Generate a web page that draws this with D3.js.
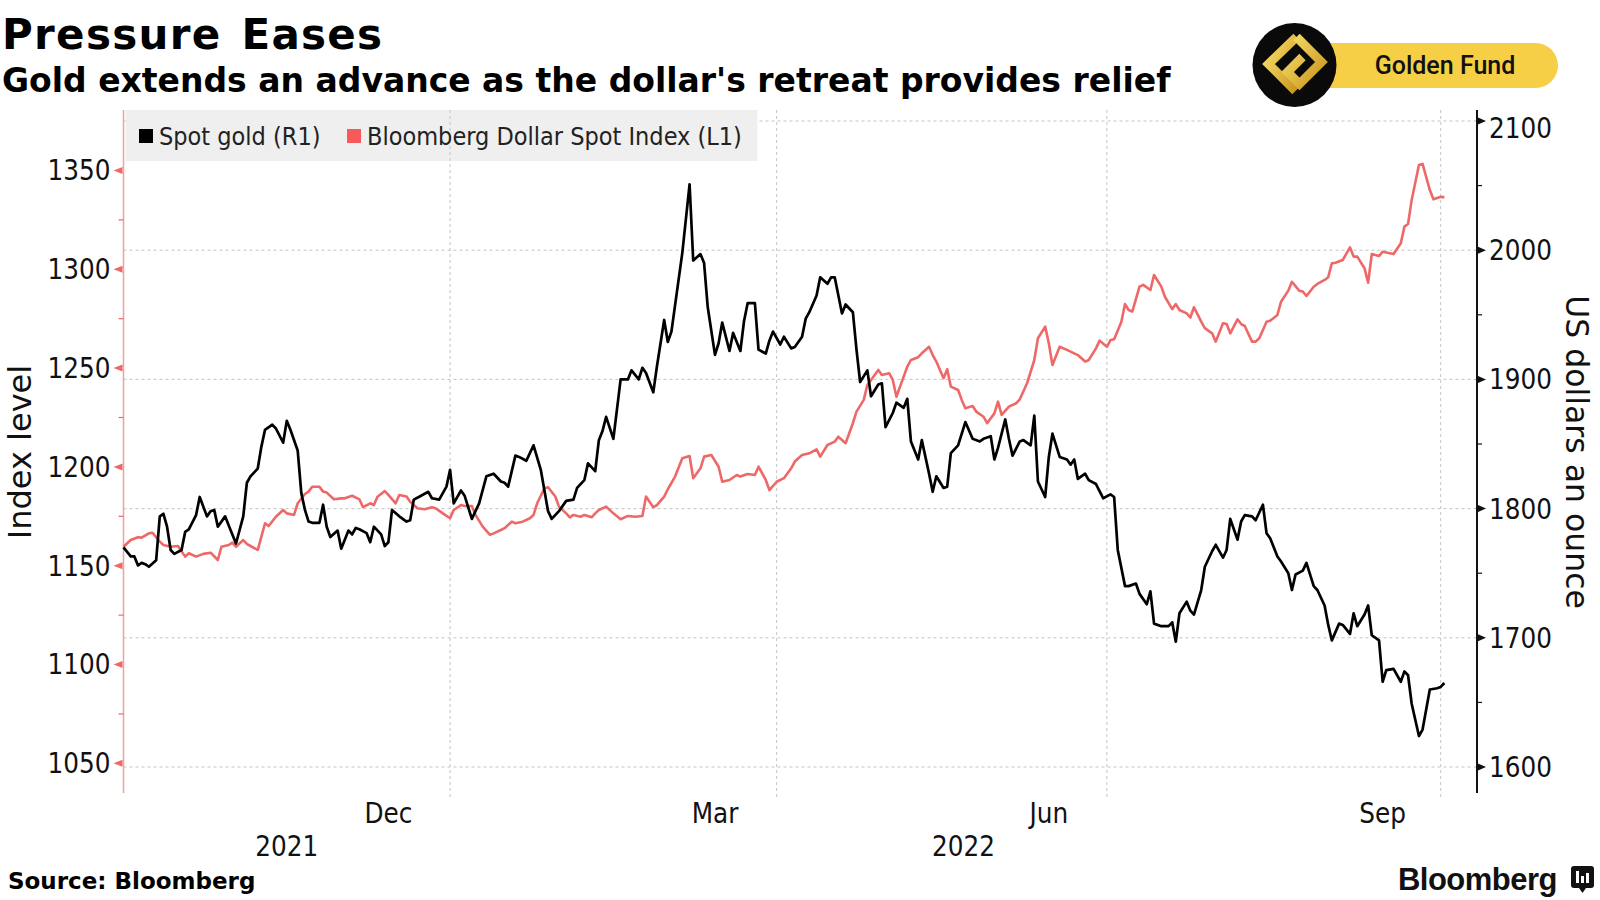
<!DOCTYPE html>
<html>
<head>
<meta charset="utf-8">
<script src="https://cdn.jsdelivr.net/npm/d3@7"></script>
<style>
  html, body { margin: 0; padding: 0; background: #fff; }
  svg { display: block; }
  .cond { font-family: "DejaVu Sans Condensed", "DejaVu Sans", sans-serif; font-stretch: condensed; }
  .wide { font-family: "DejaVu Sans", sans-serif; }
</style>
</head>
<body>
<svg id="chart" width="1600" height="900"></svg>
<script>
var width = 1600, height = 900;
var plotLeft = 123.5, plotRight = 1477, plotTop = 110, plotBottom = 793;

var red = '#ef6868',
    redAxis = '#f2a0a0',
    gridColor = '#c4c4c4';

// Spot gold, US dollars an ounce (right axis)
var goldData = [
  ["21-10-03",1770],["21-10-05",1763],["21-10-06",1763],["21-10-07",1756],["21-10-08",1758],["21-10-09",1757],
  ["21-10-10",1755],["21-10-12",1760],["21-10-13",1794],["21-10-14",1796],["21-10-15",1786],["21-10-16",1768],
  ["21-10-17",1765],["21-10-19",1768],["21-10-20",1782],["21-10-21",1784],["21-10-23",1795],["21-10-24",1809],
  ["21-10-26",1794],["21-10-27",1798],["21-10-28",1799],["21-10-29",1786],["21-10-31",1794],["21-11-01",1787],
  ["21-11-03",1773],["21-11-05",1794],["21-11-06",1820],["21-11-07",1825],["21-11-09",1831],["21-11-10",1848],
  ["21-11-11",1861],["21-11-13",1865],["21-11-14",1862],["21-11-16",1851],["21-11-17",1868],["21-11-18",1861],
  ["21-11-20",1845],["21-11-21",1812],["21-11-22",1799],["21-11-23",1790],["21-11-24",1789],["21-11-26",1789],
  ["21-11-27",1803],["21-11-28",1786],["21-11-29",1778],["21-12-01",1783],["21-12-02",1769],["21-12-04",1783],
  ["21-12-05",1780],["21-12-06",1785],["21-12-07",1784],["21-12-09",1781],["21-12-10",1774],["21-12-11",1786],
  ["21-12-13",1780],["21-12-14",1771],["21-12-15",1774],["21-12-16",1799],["21-12-18",1794],["21-12-20",1790],
  ["21-12-21",1791],["21-12-22",1807],["21-12-24",1810],["21-12-26",1813],["21-12-27",1808],["21-12-29",1807],
  ["21-12-31",1817],["22-01-01",1830],["22-01-02",1804],["22-01-04",1814],["22-01-05",1810],["22-01-07",1792],
  ["22-01-08",1798],["22-01-09",1804],["22-01-11",1825],["22-01-13",1827],["22-01-15",1821],["22-01-16",1820],
  ["22-01-17",1817],["22-01-19",1841],["22-01-20",1840],["22-01-22",1837],["22-01-24",1849],["22-01-26",1830],
  ["22-01-28",1798],["22-01-29",1792],["22-01-31",1798],["22-02-02",1806],["22-02-04",1807],["22-02-05",1816],
  ["22-02-07",1822],["22-02-08",1835],["22-02-10",1829],["22-02-11",1853],["22-02-12",1860],["22-02-13",1871],
  ["22-02-15",1854],["22-02-17",1900],["22-02-19",1900],["22-02-20",1907],["22-02-22",1900],["22-02-23",1909],
  ["22-02-24",1905],["22-02-26",1890],["22-02-27",1910],["22-03-01",1946],["22-03-02",1929],["22-03-03",1937],
  ["22-03-06",1998],["22-03-08",2051],["22-03-09",1992],["22-03-11",1997],["22-03-12",1990],["22-03-13",1956],
  ["22-03-15",1919],["22-03-16",1928],["22-03-17",1944],["22-03-19",1922],["22-03-20",1936],["22-03-22",1922],
  ["22-03-23",1945],["22-03-24",1959],["22-03-26",1959],["22-03-27",1923],["22-03-29",1920],["22-03-30",1930],
  ["22-03-31",1937],["22-04-02",1927],["22-04-03",1933],["22-04-05",1924],["22-04-06",1925],["22-04-08",1933],
  ["22-04-09",1947],["22-04-10",1952],["22-04-12",1965],["22-04-13",1979],["22-04-15",1974],["22-04-16",1979],
  ["22-04-17",1979],["22-04-19",1951],["22-04-20",1958],["22-04-22",1952],["22-04-23",1923],["22-04-24",1898],
  ["22-04-26",1907],["22-04-27",1887],["22-04-29",1896],["22-04-30",1897],["22-05-01",1863],["22-05-03",1874],
  ["22-05-04",1882],["22-05-06",1878],["22-05-07",1885],["22-05-08",1852],["22-05-10",1838],["22-05-11",1853],
  ["22-05-13",1827],["22-05-14",1813],["22-05-15",1825],["22-05-17",1816],["22-05-18",1817],["22-05-19",1843],
  ["22-05-21",1849],["22-05-23",1867],["22-05-25",1854],["22-05-27",1852],["22-05-28",1854],["22-05-30",1856],
  ["22-05-31",1838],["22-06-01",1847],["22-06-03",1869],["22-06-04",1854],["22-06-05",1841],["22-06-07",1852],
  ["22-06-08",1853],["22-06-10",1849],["22-06-11",1872],["22-06-12",1821],["22-06-14",1809],["22-06-15",1840],
  ["22-06-16",1858],["22-06-18",1840],["22-06-20",1838],["22-06-21",1834],["22-06-22",1838],["22-06-23",1823],
  ["22-06-25",1827],["22-06-26",1822],["22-06-28",1819],["22-06-30",1808],["22-07-02",1811],["22-07-03",1809],
  ["22-07-04",1768],["22-07-06",1740],["22-07-07",1740],["22-07-09",1742],["22-07-10",1734],["22-07-12",1726],
  ["22-07-13",1736],["22-07-14",1711],["22-07-16",1709],["22-07-18",1709],["22-07-19",1712],["22-07-20",1697],
  ["22-07-21",1719],["22-07-23",1728],["22-07-24",1721],["22-07-25",1718],["22-07-27",1737],["22-07-28",1755],
  ["22-07-30",1767],["22-07-31",1772],["22-08-02",1762],["22-08-03",1768],["22-08-04",1792],["22-08-06",1776],
  ["22-08-07",1790],["22-08-08",1795],["22-08-10",1794],["22-08-11",1791],["22-08-13",1803],["22-08-14",1781],
  ["22-08-15",1777],["22-08-17",1763],["22-08-18",1759],["22-08-20",1750],["22-08-21",1737],["22-08-22",1749],
  ["22-08-24",1752],["22-08-25",1758],["22-08-27",1740],["22-08-28",1737],["22-08-30",1725],["22-08-31",1710],
  ["22-09-01",1698],["22-09-03",1711],["22-09-04",1710],["22-09-06",1703],["22-09-07",1719],["22-09-08",1709],
  ["22-09-10",1718],["22-09-11",1725],["22-09-12",1702],["22-09-14",1698],["22-09-15",1666],["22-09-16",1675],
  ["22-09-18",1676],["22-09-20",1666],["22-09-21",1674],["22-09-22",1671],["22-09-23",1649],["22-09-25",1624],
  ["22-09-26",1629],["22-09-28",1660],["22-09-30",1661],["22-10-01",1662],["22-10-02",1665]
];

// Bloomberg Dollar Spot Index (left axis)
var dollarData = [
  ["21-10-03",1159.6],["21-10-05",1163.0],["21-10-07",1164.4],["21-10-08",1164.2],["21-10-10",1166.4],["21-10-11",1166.7],
  ["21-10-13",1162.2],["21-10-14",1160.5],["21-10-16",1159.6],["21-10-18",1160.0],["21-10-20",1154.6],["21-10-21",1156.3],
  ["21-10-23",1154.6],["21-10-25",1156.0],["21-10-27",1156.6],["21-10-29",1152.9],["21-10-30",1159.6],["21-11-01",1160.5],
  ["21-11-02",1161.7],["21-11-03",1159.6],["21-11-05",1163.0],["21-11-06",1161.0],["21-11-09",1158.0],["21-11-10",1164.7],
  ["21-11-11",1171.5],["21-11-12",1170.1],["21-11-14",1174.8],["21-11-16",1178.2],["21-11-17",1176.5],["21-11-19",1175.7],
  ["21-11-20",1181.6],["21-11-22",1186.3],["21-11-23",1187.5],["21-11-24",1190.0],["21-11-26",1190.0],["21-11-27",1187.5],
  ["21-11-28",1187.0],["21-11-30",1183.6],["21-12-02",1184.1],["21-12-03",1184.1],["21-12-05",1185.4],["21-12-07",1183.6],
  ["21-12-08",1179.6],["21-12-10",1181.6],["21-12-11",1180.7],["21-12-12",1184.9],["21-12-14",1187.8],["21-12-15",1185.8],
  ["21-12-17",1181.6],["21-12-18",1185.8],["21-12-20",1185.0],["21-12-21",1182.4],["21-12-23",1179.1],["21-12-25",1178.6],
  ["21-12-27",1179.6],["21-12-28",1179.1],["21-12-30",1176.5],["22-01-01",1174.0],["22-01-02",1178.2],["22-01-04",1180.7],
  ["22-01-05",1180.2],["22-01-07",1180.2],["22-01-08",1175.7],["22-01-10",1169.8],["22-01-12",1165.6],["22-01-13",1166.4],
  ["22-01-15",1168.1],["22-01-16",1169.0],["22-01-18",1172.3],["22-01-19",1171.5],["22-01-21",1172.3],["22-01-23",1174.0],
  ["22-01-24",1175.7],["22-01-25",1181.6],["22-01-27",1189.2],["22-01-28",1189.7],["22-01-30",1185.0],["22-01-31",1179.9],
  ["22-02-02",1176.5],["22-02-03",1174.5],["22-02-04",1175.7],["22-02-06",1174.8],["22-02-07",1175.7],["22-02-09",1174.5],
  ["22-02-10",1176.5],["22-02-11",1178.2],["22-02-13",1179.9],["22-02-15",1176.5],["22-02-17",1173.5],["22-02-19",1175.2],
  ["22-02-21",1174.8],["22-02-23",1175.2],["22-02-24",1185.0],["22-02-26",1179.6],["22-02-27",1180.7],["22-03-01",1185.0],
  ["22-03-02",1188.7],["22-03-04",1195.1],["22-03-06",1204.4],["22-03-08",1205.5],["22-03-09",1194.3],["22-03-11",1199.3],
  ["22-03-12",1205.2],["22-03-14",1206.0],["22-03-16",1200.1],["22-03-17",1192.5],["22-03-19",1193.4],["22-03-21",1195.9],
  ["22-03-22",1195.1],["22-03-24",1196.4],["22-03-26",1195.9],["22-03-27",1200.1],["22-03-29",1193.4],["22-03-30",1188.3],
  ["22-04-01",1192.5],["22-04-03",1194.3],["22-04-05",1199.3],["22-04-06",1202.7],["22-04-08",1206.0],["22-04-10",1206.9],
  ["22-04-12",1208.9],["22-04-13",1205.2],["22-04-15",1211.1],["22-04-17",1212.8],["22-04-18",1215.3],["22-04-20",1212.0],
  ["22-04-22",1222.1],["22-04-23",1228.0],["22-04-25",1233.9],["22-04-26",1241.5],["22-04-28",1246.5],["22-04-29",1249.1],
  ["22-04-30",1246.5],["22-05-02",1247.4],["22-05-03",1244.0],["22-05-04",1235.5],["22-05-06",1245.7],["22-05-07",1250.7],
  ["22-05-08",1254.1],["22-05-10",1255.5],["22-05-11",1257.5],["22-05-13",1260.8],["22-05-14",1256.6],["22-05-15",1253.3],
  ["22-05-17",1244.9],["22-05-18",1249.4],["22-05-19",1240.6],["22-05-21",1238.9],["22-05-22",1233.9],["22-05-23",1229.7],
  ["22-05-25",1230.8],["22-05-26",1228.0],["22-05-28",1225.4],["22-05-29",1222.1],["22-05-31",1227.1],["22-06-01",1233.0],
  ["22-06-02",1226.3],["22-06-04",1230.5],["22-06-06",1232.2],["22-06-07",1234.2],["22-06-09",1242.3],["22-06-11",1254.1],
  ["22-06-12",1265.1],["22-06-14",1271.0],["22-06-15",1262.6],["22-06-16",1251.6],["22-06-18",1260.8],["22-06-20",1259.2],
  ["22-06-21",1258.3],["22-06-23",1256.6],["22-06-25",1253.3],["22-06-26",1254.1],["22-06-28",1260.0],["22-06-29",1263.9],
  ["22-07-01",1260.8],["22-07-02",1264.2],["22-07-03",1264.6],["22-07-05",1273.5],["22-07-06",1282.4],["22-07-07",1279.4],
  ["22-07-08",1278.6],["22-07-10",1291.2],["22-07-11",1292.1],["22-07-13",1289.5],["22-07-14",1297.1],["22-07-16",1291.2],
  ["22-07-17",1286.1],["22-07-19",1279.8],["22-07-20",1282.4],["22-07-21",1279.4],["22-07-23",1277.7],["22-07-24",1275.6],
  ["22-07-25",1280.8],["22-07-27",1273.5],["22-07-28",1270.2],["22-07-30",1267.6],["22-07-31",1263.4],["22-08-02",1272.7],
  ["22-08-03",1272.3],["22-08-04",1267.6],["22-08-06",1274.7],["22-08-07",1272.3],["22-08-08",1271.3],["22-08-10",1263.4],
  ["22-08-11",1263.4],["22-08-12",1265.1],["22-08-14",1273.5],["22-08-15",1274.0],["22-08-17",1276.9],["22-08-18",1283.6],
  ["22-08-20",1289.2],["22-08-21",1293.7],["22-08-23",1289.2],["22-08-24",1288.7],["22-08-25",1286.5],["22-08-27",1291.2],
  ["22-08-28",1292.6],["22-08-30",1294.6],["22-08-31",1296.0],["22-09-01",1303.0],["22-09-02",1303.3],["22-09-04",1304.7],
  ["22-09-06",1311.1],["22-09-07",1306.4],["22-09-08",1306.4],["22-09-10",1300.5],["22-09-11",1293.2],["22-09-12",1307.7],
  ["22-09-14",1306.7],["22-09-15",1308.9],["22-09-17",1308.1],["22-09-18",1307.7],["22-09-20",1313.2],["22-09-21",1321.6],
  ["22-09-22",1322.9],["22-09-23",1335.1],["22-09-25",1352.8],["22-09-26",1353.3],["22-09-28",1340.1],["22-09-29",1335.4],
  ["22-10-01",1336.7],["22-10-02",1336.4]
];

var leftTicks = [1050, 1100, 1150, 1200, 1250, 1300, 1350];
var leftMinor = [1075, 1125, 1175, 1225, 1275, 1325];
var rightTicks = [1600, 1700, 1800, 1900, 2000, 2100];
var rightMinor = [1650, 1750, 1850, 1950, 2050];
var gridDates = ["22-01-01", "22-04-01", "22-07-01", "22-10-01"];
var monthLabels = [["21-12-15", "Dec"], ["22-03-15", "Mar"], ["22-06-15", "Jun"], ["22-09-15", "Sep"]];
var yearLabels = [["2021", "21-10-03", "22-01-01"], ["2022", "22-01-01", "22-10-11"]];
var xDomain = ["21-10-03", "22-10-11"];
var leftDomain = [1035, 1380.6];
var rightDomain = [1579.9, 2108.5];

var parse = d3.timeParse("%y-%m-%d");

var x = d3.scaleTime().domain(xDomain.map(parse)).range([plotLeft, plotRight]);
var yLeft = d3.scaleLinear().domain(leftDomain).range([plotBottom, plotTop]);
var yRight = d3.scaleLinear().domain(rightDomain).range([plotBottom, plotTop]);

var gold = goldData.map(function(d) { return {date: parse(d[0]), value: d[1]}; });
var dollar = dollarData.map(function(d) { return {date: parse(d[0]), value: d[1]}; });

var svg = d3.select("#chart");

svg.append("rect").attr("width", width).attr("height", height).attr("fill", "#fff");

// horizontal grid follows the right axis
svg.append("g").selectAll("line").data(rightTicks).join("line")
  .attr("x1", plotLeft).attr("x2", plotRight)
  .attr("y1", function(d) { return yRight(d); })
  .attr("y2", function(d) { return yRight(d); })
  .attr("stroke", gridColor).attr("stroke-width", 1).attr("stroke-dasharray", "3,3");

// legend box
svg.append("rect")
  .attr("x", plotLeft + 2).attr("y", plotTop).attr("width", 632).attr("height", 51)
  .attr("fill", "#efefef");

svg.append("g").selectAll("line").data(gridDates).join("line")
  .attr("x1", function(d) { return x(parse(d)); })
  .attr("x2", function(d) { return x(parse(d)); })
  .attr("y1", plotTop).attr("y2", plotBottom + 5)
  .attr("stroke", gridColor).attr("stroke-width", 1).attr("stroke-dasharray", "3,3");

// left axis (dollar index)
var leftAxis = svg.append("g");
leftAxis.append("line")
  .attr("x1", plotLeft).attr("x2", plotLeft).attr("y1", plotTop).attr("y2", plotBottom)
  .attr("stroke", redAxis).attr("stroke-width", 1.5);
leftAxis.selectAll("path.tick").data(leftTicks).join("path")
  .attr("class", "tick")
  .attr("d", function(d) { var y = yLeft(d); return "M" + (plotLeft - 1) + "," + (y - 3.5) + "L" + (plotLeft - 10) + "," + y + "L" + (plotLeft - 1) + "," + (y + 3.5) + "Z"; })
  .attr("fill", red);
leftAxis.selectAll("line.minor").data(leftMinor).join("line")
  .attr("class", "minor")
  .attr("x1", plotLeft - 5).attr("x2", plotLeft)
  .attr("y1", function(d) { return yLeft(d); }).attr("y2", function(d) { return yLeft(d); })
  .attr("stroke", red).attr("stroke-width", 1.2);
leftAxis.selectAll("text").data(leftTicks).join("text")
  .attr("class", "cond")
  .attr("x", plotLeft - 13).attr("y", function(d) { return yLeft(d); })
  .attr("dy", "0.36em").attr("text-anchor", "end")
  .attr("font-size", 27.5).attr("fill", "#111")
  .text(function(d) { return d; });

// right axis (gold); the top label sits a little lower than its tick
var rightAxis = svg.append("g");
rightAxis.append("line")
  .attr("x1", plotRight).attr("x2", plotRight).attr("y1", plotTop).attr("y2", plotBottom)
  .attr("stroke", "#111").attr("stroke-width", 2);
rightAxis.selectAll("path.tick").data(rightTicks).join("path")
  .attr("class", "tick")
  .attr("d", function(d) { var y = yRight(d); return "M" + (plotRight + 1) + "," + (y - 3.5) + "L" + (plotRight + 9) + "," + y + "L" + (plotRight + 1) + "," + (y + 3.5) + "Z"; })
  .attr("fill", "#111");
rightAxis.selectAll("line.minor").data(rightMinor).join("line")
  .attr("class", "minor")
  .attr("x1", plotRight).attr("x2", plotRight + 5)
  .attr("y1", function(d) { return yRight(d); }).attr("y2", function(d) { return yRight(d); })
  .attr("stroke", "#111").attr("stroke-width", 1.2);
rightAxis.selectAll("text").data(rightTicks).join("text")
  .attr("class", "cond")
  .attr("x", plotRight + 12)
  .attr("y", function(d) { return yRight(d) + (yRight(d) - plotTop < 20 ? 7 : 0); })
  .attr("dy", "0.36em")
  .attr("font-size", 27.5).attr("fill", "#111")
  .text(function(d) { return d; });

// x labels
svg.append("g").selectAll("text").data(monthLabels).join("text")
  .attr("class", "cond")
  .attr("x", function(d) { return x(parse(d[0])); })
  .attr("y", 823).attr("text-anchor", "middle")
  .attr("font-size", 27.5).attr("fill", "#111")
  .text(function(d) { return d[1]; });
svg.append("g").selectAll("text").data(yearLabels).join("text")
  .attr("class", "cond")
  .attr("x", function(d) { return (x(parse(d[1])) + x(parse(d[2]))) / 2; })
  .attr("y", 856).attr("text-anchor", "middle")
  .attr("font-size", 27.5).attr("fill", "#111")
  .text(function(d) { return d[0]; });

// series
var lineLeft = d3.line().x(function(d) { return x(d.date); }).y(function(d) { return yLeft(d.value); });
var lineRight = d3.line().x(function(d) { return x(d.date); }).y(function(d) { return yRight(d.value); });

svg.append("path").datum(dollar)
  .attr("d", lineLeft).attr("fill", "none")
  .attr("stroke", red).attr("stroke-width", 2.6).attr("stroke-linejoin", "round");
svg.append("path").datum(gold)
  .attr("d", lineRight).attr("fill", "none")
  .attr("stroke", "#000").attr("stroke-width", 2.7).attr("stroke-linejoin", "round");

// legend
var legend = svg.append("g").attr("class", "cond").attr("font-size", 25).attr("fill", "#222");
legend.append("rect").attr("x", 139).attr("y", 129).attr("width", 14).attr("height", 14).attr("fill", "#000");
legend.append("text").attr("x", 159).attr("y", 145).text("Spot gold (R1)");
legend.append("rect").attr("x", 347).attr("y", 129).attr("width", 14).attr("height", 14).attr("fill", "#f65a5a");
legend.append("text").attr("x", 367).attr("y", 145).text("Bloomberg Dollar Spot Index (L1)");

// axis titles
svg.append("text").attr("class", "wide")
  .attr("transform", "translate(20,452) rotate(-90)")
  .attr("text-anchor", "middle").attr("dy", "0.35em")
  .attr("font-size", 32).attr("fill", "#111")
  .text("Index level");
svg.append("text").attr("class", "wide")
  .attr("transform", "translate(1577,452) rotate(90)")
  .attr("text-anchor", "middle").attr("dy", "0.35em")
  .attr("font-size", 31.5).attr("fill", "#111")
  .text("US dollars an ounce");

// titles
svg.append("text").attr("class", "wide")
  .attr("x", 2).attr("y", 49)
  .attr("font-size", 42).attr("font-weight", "bold").attr("fill", "#000")
  .attr("letter-spacing", 1.3).attr("word-spacing", 4)
  .text("Pressure Eases");
svg.append("text").attr("class", "wide")
  .attr("x", 2).attr("y", 92)
  .attr("font-size", 33).attr("font-weight", "bold").attr("fill", "#000")
  .text("Gold extends an advance as the dollar's retreat provides relief");

// footer
svg.append("text").attr("class", "wide")
  .attr("x", 8).attr("y", 889)
  .attr("font-size", 23).attr("font-weight", "bold").attr("fill", "#000")
  .text("Source: Bloomberg");
svg.append("text")
  .attr("x", 1557).attr("y", 890).attr("text-anchor", "end")
  .attr("font-family", "Liberation Sans, Arial, sans-serif").attr("font-size", 31).attr("font-weight", "bold")
  .attr("fill", "#111").attr("letter-spacing", -0.5)
  .text("Bloomberg");
var icon = svg.append("g").attr("transform", "translate(1571,866)");
icon.append("rect").attr("width", 23).attr("height", 22).attr("rx", 3).attr("fill", "#111");
icon.append("path").attr("d", "M8,22 L11.5,27 L15,22 Z").attr("fill", "#111");
[[5, 12], [10, 7], [15, 10]].forEach(function(b) {
  icon.append("rect").attr("x", b[0]).attr("y", 17 - b[1]).attr("width", 3).attr("height", b[1]).attr("fill", "#fff");
});

// Golden Fund badge
var defs = svg.append("defs");
var grad = defs.append("linearGradient").attr("id", "goldGrad")
  .attr("x1", "0%").attr("y1", "0%").attr("x2", "100%").attr("y2", "100%");
grad.append("stop").attr("offset", "0%").attr("stop-color", "#f9df6a");
grad.append("stop").attr("offset", "100%").attr("stop-color", "#c8961e");

var badge = svg.append("g");
badge.append("rect").attr("x", 1290).attr("y", 43).attr("width", 268).attr("height", 45).attr("rx", 22.5)
  .attr("fill", "#f6cf47");
badge.append("text").attr("x", 1445).attr("y", 74).attr("text-anchor", "middle")
  .attr("font-family", "Roboto, sans-serif").attr("font-weight", 500).attr("font-size", 25).attr("fill", "#111")
  .text("Golden Fund");
var logo = badge.append("g").attr("transform", "translate(1294.5,65)");
logo.append("circle").attr("r", 42).attr("fill", "#0a0a0a");
logo.append("path").attr("d", "M2,-28 L-26,-1 L1,26")
  .attr("fill", "none").attr("stroke", "url(#goldGrad)").attr("stroke-width", 9);
logo.append("path").attr("d", "M2,-28 L27,-3 L5,19 L-7,7 L8,-8")
  .attr("fill", "none").attr("stroke", "url(#goldGrad)").attr("stroke-width", 9);
</script>
</body>
</html>
